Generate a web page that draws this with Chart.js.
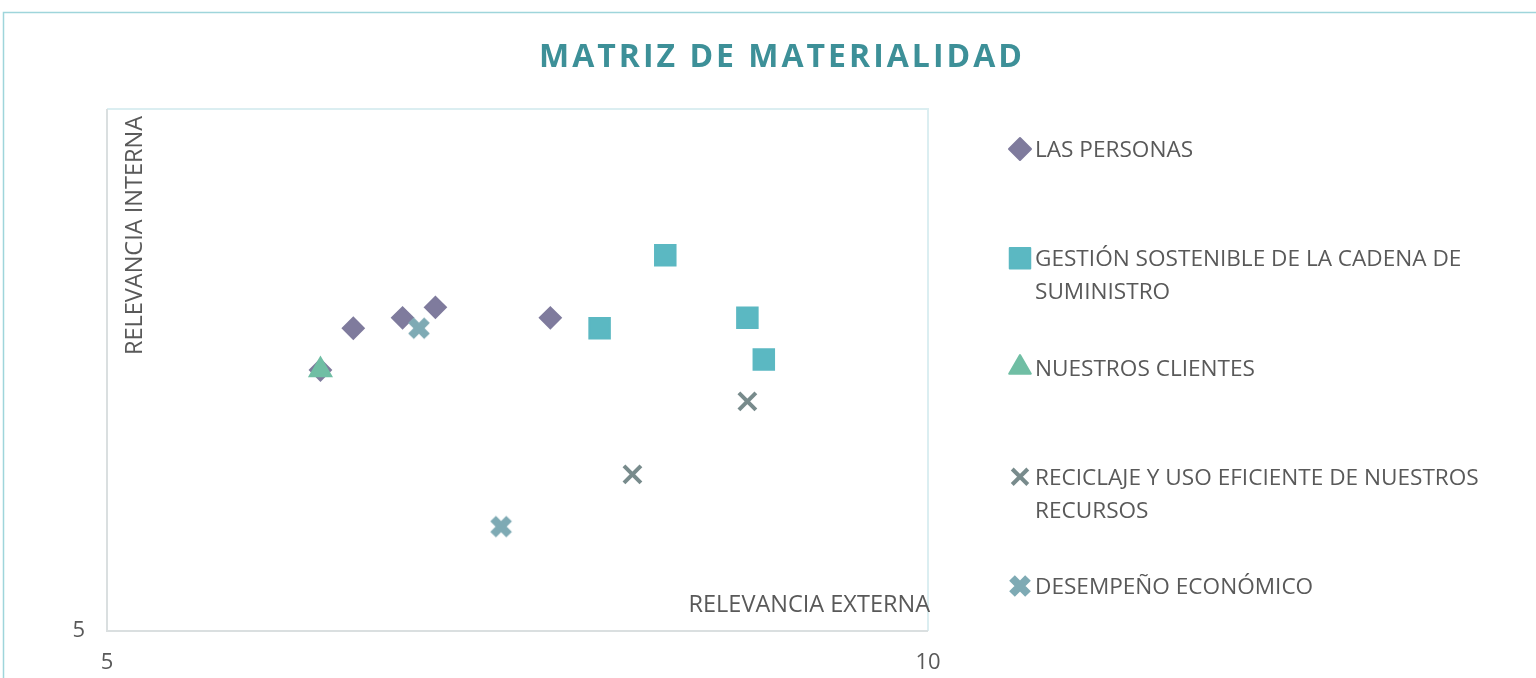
<!DOCTYPE html>
<html lang="es">
<head>
  <meta charset="UTF-8">
  <title>Matriz de Materialidad</title>
  <script src="https://cdn.jsdelivr.net/npm/chart.js"></script>
  <style>
    html, body {
      margin: 0;
      padding: 0;
      background: #ffffff;
      overflow: hidden;
    }
    #wrap {
      position: relative;
      width: 1536px;
      height: 678px;
    }
  </style>
</head>
<body>
  <div id="wrap">
    <canvas id="matrixChart" width="1536" height="678"></canvas>
  </div>

  <script>
    // Series (x = relevancia externa, y = relevancia interna)
    const seriesNames = [
      "LAS PERSONAS",
      "GESTIÓN SOSTENIBLE DE LA CADENA DE SUMINISTRO",
      "NUESTROS CLIENTES",
      "RECICLAJE Y USO EFICIENTE DE NUESTROS RECURSOS",
      "DESEMPEÑO ECONÓMICO"
    ];
    const personasX = [6.3, 6.5, 6.8, 7.0, 7.7];
    const personasY = [7.5, 7.9, 8.0, 8.1, 8.0];
    const cadenaX = [8.4, 8.0, 8.9, 9.0];
    const cadenaY = [8.6, 7.9, 8.0, 7.6];
    const clientesX = [6.3];
    const clientesY = [7.5];
    const reciclajeX = [8.9, 8.2];
    const reciclajeY = [7.2, 6.5];
    const desempenoX = [6.9, 7.4];
    const desempenoY = [7.9, 6.0];

    const xTicksShown = [5, 10];
    const yTicksShown = [5];

    const chartTitle = "MATRIZ DE MATERIALIDAD";
    const xTitle = "RELEVANCIA EXTERNA";
    const yTitle = "RELEVANCIA INTERNA";

    const FONT = "'Open Sans', 'DejaVu Sans', sans-serif";
    const TEXT_COLOR = "#595959";

    // thick X marker used for "Desempeño económico"
    function fatCross(color) {
      const c = document.createElement("canvas");
      c.width = 26;
      c.height = 26;
      const g = c.getContext("2d");
      g.strokeStyle = color;
      g.lineWidth = 8;
      g.lineCap = "butt";
      g.beginPath();
      g.moveTo(5, 5); g.lineTo(21, 21);
      g.moveTo(21, 5); g.lineTo(5, 21);
      g.stroke();
      return c;
    }

    function toPoints(xs, ys) {
      return xs.map((x, i) => ({ x: x, y: ys[i] }));
    }

    const datasets = [
      {
        label: seriesNames[0],
        data: toPoints(personasX, personasY),
        pointStyle: "rectRot",
        pointRadius: 10.5,
        backgroundColor: "#7f7b9d",
        borderColor: "#7f7b9d",
        borderWidth: 2,
        order: 2
      },
      {
        label: seriesNames[1],
        data: toPoints(cadenaX, cadenaY),
        pointStyle: "rect",
        pointRadius: 14.5,
        backgroundColor: "#5bb8c2",
        borderColor: "#5bb8c2",
        borderWidth: 2,
        order: 1
      },
      {
        label: seriesNames[2],
        data: toPoints(clientesX, clientesY),
        pointStyle: "triangle",
        pointRadius: 12.5,
        backgroundColor: "#70bea4",
        borderColor: "#70bea4",
        borderWidth: 2,
        order: 0
      },
      {
        label: seriesNames[3],
        data: toPoints(reciclajeX, reciclajeY),
        pointStyle: "crossRot",
        pointRadius: 12,
        backgroundColor: "#788b8c",
        borderColor: "#788b8c",
        borderWidth: 4,
        order: 0
      },
      {
        label: seriesNames[4],
        data: toPoints(desempenoX, desempenoY),
        pointStyle: fatCross("#7eaab4"),
        pointRadius: 12,
        backgroundColor: "#7eaab4",
        borderColor: "#7eaab4",
        borderWidth: 0,
        order: 0
      }
    ];

    function wrapWords(ctx, text, maxWidth) {
      const words = text.split(" ");
      const lines = [];
      let line = "";
      words.forEach(w => {
        const test = line ? line + " " + w : w;
        if (ctx.measureText(test).width > maxWidth && line) {
          lines.push(line);
          line = w;
        } else {
          line = test;
        }
      });
      if (line) lines.push(line);
      return lines;
    }

    const legendRadius = { rectRot: 11, rect: 14.5, triangle: 12.5, crossRot: 11 };

    const decorPlugin = {
      id: "decor",
      beforeDraw(chart) {
        const ctx = chart.ctx;
        ctx.save();
        // outer frame (cut by the window on the right and bottom)
        ctx.strokeStyle = "#9fd5db";
        ctx.lineWidth = 1.5;
        ctx.beginPath();
        ctx.moveTo(3.5, 678);
        ctx.lineTo(3.5, 12.5);
        ctx.lineTo(1536, 12.5);
        ctx.stroke();

        // title
        ctx.fillStyle = "#3d9098";
        ctx.font = "bold 32px " + FONT;
        ctx.letterSpacing = "3px";
        ctx.textAlign = "center";
        ctx.textBaseline = "alphabetic";
        ctx.fillText(chartTitle, 782, 67);
        ctx.restore();
      },
      beforeDatasetsDraw(chart) {
        const ctx = chart.ctx;
        const a = chart.chartArea;
        ctx.save();
        ctx.lineWidth = 2;
        ctx.strokeStyle = "#dbeef1";
        ctx.beginPath();
        ctx.moveTo(a.left, a.top);
        ctx.lineTo(a.right, a.top);
        ctx.lineTo(a.right, a.bottom);
        ctx.stroke();
        ctx.strokeStyle = "#dadfe0";
        ctx.beginPath();
        ctx.moveTo(a.left, a.top);
        ctx.lineTo(a.left, a.bottom);
        ctx.lineTo(a.right, a.bottom);
        ctx.stroke();

        // axis titles inside the plot area
        ctx.fillStyle = TEXT_COLOR;
        ctx.font = "23.5px " + FONT;
        ctx.textAlign = "right";
        ctx.textBaseline = "alphabetic";
        ctx.fillText(xTitle, a.right + 2, a.bottom - 19);

        ctx.translate(a.left + 35, a.top + 7);
        ctx.rotate(-Math.PI / 2);
        ctx.fillText(yTitle, 0, 0);
        ctx.restore();
      },
      afterDraw(chart) {
        // legend on the right
        const ctx = chart.ctx;
        ctx.save();
        ctx.font = "22.6px " + FONT;
        ctx.fillStyle = TEXT_COLOR;
        ctx.textAlign = "left";
        ctx.textBaseline = "alphabetic";
        chart.data.datasets.forEach((ds, i) => {
          const cy = 149 + i * 109.25;
          ctx.save();
          ctx.fillStyle = ds.backgroundColor;
          ctx.strokeStyle = ds.borderColor;
          ctx.lineWidth = ds.borderWidth;
          ctx.lineJoin = "round";
          Chart.helpers.drawPoint(ctx, {
            pointStyle: ds.pointStyle,
            radius: legendRadius[ds.pointStyle] || 12,
            rotation: 0,
            borderWidth: ds.borderWidth
          }, 1020, cy);
          ctx.restore();
          const lines = wrapWords(ctx, ds.label, 480);
          lines.forEach((ln, j) => {
            ctx.fillText(ln, 1035, cy + 8 + j * 33);
          });
        });
        ctx.restore();
      }
    };

    new Chart(document.getElementById("matrixChart"), {
      type: "scatter",
      data: { datasets: datasets },
      plugins: [decorPlugin],
      options: {
        responsive: false,
        animation: false,
        elements: {
          point: { borderJoinStyle: "round", hoverRadius: 12 }
        },
        layout: {
          padding: { left: 0, top: 109, right: 608, bottom: 0 }
        },
        plugins: {
          legend: { display: false },
          title: { display: false },
          tooltip: { enabled: false }
        },
        scales: {
          x: {
            type: "linear",
            min: 5,
            max: 10,
            grid: { display: false, drawTicks: false },
            border: { display: false },
            afterFit(scale) { scale.height = 47; },
            afterBuildTicks(scale) {
              scale.ticks = xTicksShown.map(v => ({ value: v }));
            },
            ticks: {
              padding: 19,
              color: TEXT_COLOR,
              font: { family: FONT, size: 22 }
            }
          },
          y: {
            type: "linear",
            min: 5,
            max: 10,
            grid: { display: false, drawTicks: false },
            border: { display: false },
            afterFit(scale) { scale.width = 107; },
            afterBuildTicks(scale) {
              scale.ticks = yTicksShown.map(v => ({ value: v }));
            },
            ticks: {
              padding: 22,
              color: TEXT_COLOR,
              font: { family: FONT, size: 22 }
            }
          }
        }
      }
    });
  </script>
</body>
</html>
